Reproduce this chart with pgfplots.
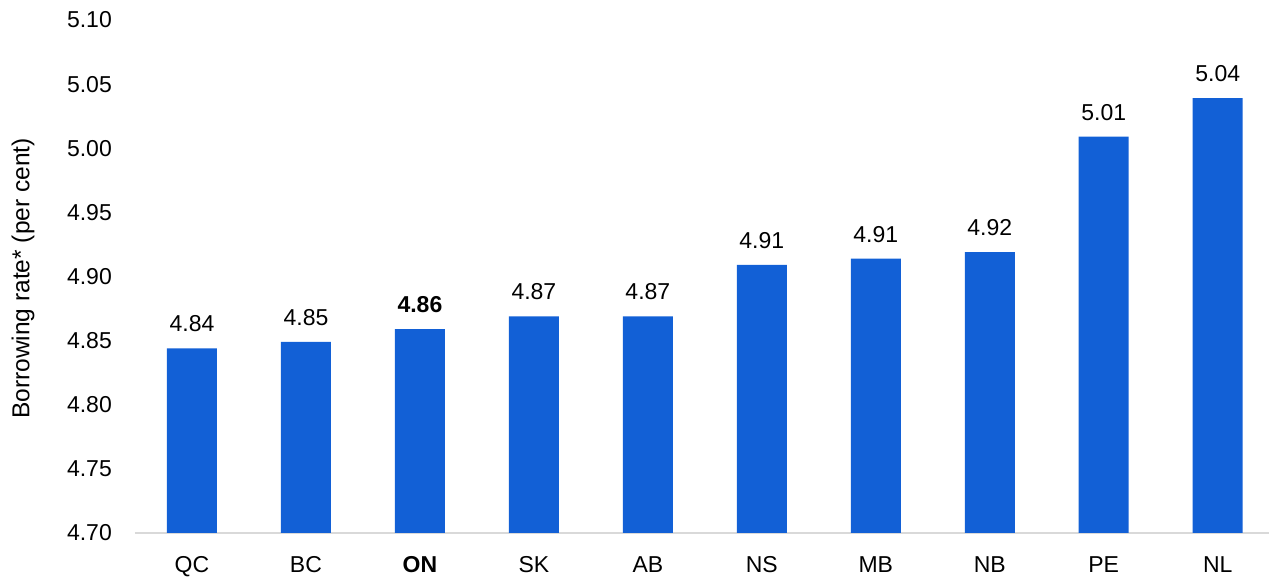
\documentclass[border=0pt]{standalone}
\usepackage{pgfplots}
\pgfplotsset{compat=1.18}
\usepackage{fontspec}
\setmainfont{Liberation Sans}
\definecolor{barblue}{RGB}{18,96,214}
\definecolor{basegray}{RGB}{217,217,217}
\pgfplotstableread{
x y label
0 4.844 4.84
1 4.849 4.85
2 4.859 {\textbf{4.86}}
3 4.869 4.87
4 4.869 4.87
5 4.909 4.91
6 4.914 4.91
7 4.919 4.92
8 5.009 5.01
9 5.039 5.04
}\datatable
\begin{document}
\begin{tikzpicture}
\useasboundingbox (-135pt,-44pt) rectangle (1135pt,533pt);
\begin{axis}[
  at={(0,0)}, anchor=south west,
  scale only axis, width=1134pt, height=513pt,
  xmin=-0.5, xmax=9.45, ymin=4.70, ymax=5.10,
  axis lines*=left,
  x axis line style={-, draw=basegray, line width=1.5pt},
  y axis line style={draw=none},
  major tick length=0pt,
  xtick=data,
  xticklabels={QC,BC,\textbf{ON},SK,AB,NS,MB,NB,PE,NL},
  ytick={4.70,4.75,4.80,4.85,4.90,4.95,5.00,5.05,5.10},
  y tick label style={/pgf/number format/fixed, /pgf/number format/fixed zerofill, /pgf/number format/precision=2, /pgf/number format/assume math mode=true},
  y tick label style={anchor=east, inner sep=0pt, xshift=-23pt, font=\fontsize{23}{27}\selectfont},
  x tick label style={anchor=north, inner sep=0pt, yshift=-23pt, font=\fontsize{23}{27}\selectfont},
  every axis y label/.style={at={(axis description cs:0,0.5)}, xshift=-112pt, yshift=-2pt, rotate=90, anchor=center, font=\fontsize{24.5}{28}\selectfont},
  ylabel={Borrowing rate* (per cent)},
  ybar, bar width=50pt,
  nodes near coords,
  point meta=explicit symbolic,
  every node near coord/.append style={anchor=south, inner sep=0pt, yshift=16pt, font=\fontsize{23}{27}\selectfont, text=black},
]
\addplot[fill=barblue, draw=none] table[x=x, y=y, meta=label] {\datatable};
\end{axis}
\end{tikzpicture}
\end{document}
